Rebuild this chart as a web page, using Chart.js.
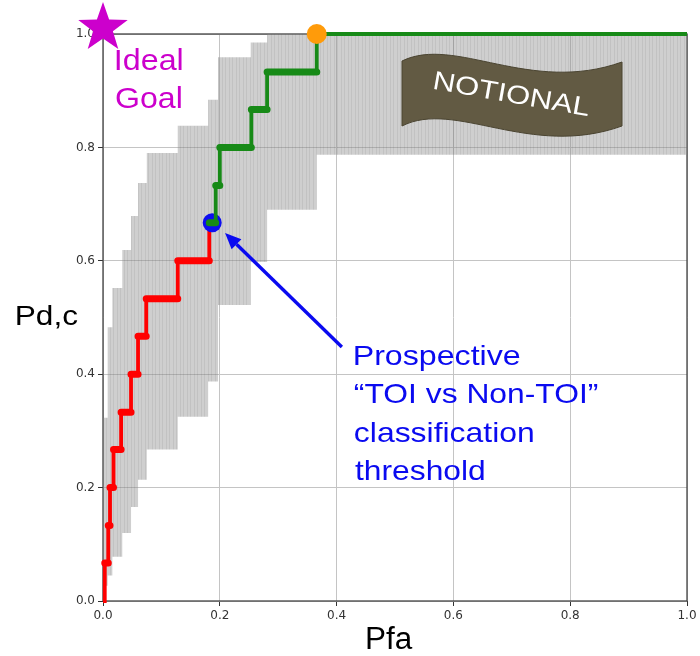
<!DOCTYPE html>
<html>
<head>
<meta charset="utf-8">
<title>ROC – Pd,c vs Pfa</title>
<script src="https://cdn.jsdelivr.net/npm/chart.js@4.4.1/dist/chart.umd.min.js"></script>
<style>
  html, body { margin: 0; padding: 0; background: #ffffff; }
  #wrap { position: relative; width: 700px; height: 656px; }
</style>
</head>
<body>
<div id="wrap"><canvas id="roc" width="700" height="656"></canvas></div>
<script>
// ---- data -------------------------------------------------------------
// Pd levels: fraction of the 15 targets correctly classified
const pdLevels = [0, 0.067, 0.133, 0.200, 0.267, 0.333, 0.400, 0.467,
                  0.533, 0.600, 0.667, 0.733, 0.800, 0.867, 0.933, 1.000];
// Pfa at which Pd steps from one level to the next
const pfaSteps = [0.003, 0.009, 0.012, 0.018, 0.031, 0.048, 0.060, 0.074,
                  0.128, 0.182, 0.193, 0.200, 0.254, 0.281, 0.366];
// operating point proposed as the classification threshold
const thresholdLevel = 10;
const thresholdPfa = 0.187;
// first point reaching Pd = 1
const fullDetection = [0.366, 1.0];
// ideal goal (no false alarms, all targets)
const idealPoint = [0, 1.0];

// confidence band: Pfa bin edges with lower / upper Pd bound per bin
const bandEdges = [0, 0.008, 0.016, 0.033, 0.048, 0.060, 0.075, 0.128,
                   0.180, 0.197, 0.253, 0.281, 0.366, 1.0];
const bandLow  = [0.027, 0.045, 0.078, 0.120, 0.166, 0.214, 0.267,
                  0.325, 0.387, 0.522, 0.598, 0.690, 0.787];
const bandHigh = [0.323, 0.483, 0.552, 0.619, 0.679, 0.737, 0.790,
                  0.838, 0.884, 0.959, 0.985, 1.000, 1.000];

const axisTicks = [0, 0.2, 0.4, 0.6, 0.8, 1.0];

// arrow from the annotation text to the threshold point (data coords)
const arrowTail = [0.409, 0.448];
const arrowTip  = [0.209, 0.649];

// ---- helpers ------------------------------------------------------------
function levelStart(k) { return k === 0 ? 0 : pfaSteps[k - 1]; }
function levelEnd(k)   { return k < pfaSteps.length ? pfaSteps[k] : 1.0; }

function stairPath(fromLevel, toLevel) {
  const pts = [];
  for (let k = fromLevel; k <= toLevel; k++) {
    pts.push({ x: levelStart(k), y: pdLevels[k] });
    pts.push({ x: levelEnd(k), y: pdLevels[k] });
  }
  return pts;
}
function levelBars(fromLevel, toLevel) {
  const pts = [];
  for (let k = fromLevel; k <= toLevel; k++) {
    pts.push({ x: levelStart(k), y: pdLevels[k] });
    pts.push({ x: levelEnd(k), y: pdLevels[k] });
    pts.push({ x: levelEnd(k), y: null });
  }
  return pts;
}
function bandLine(values) {
  const pts = [];
  values.forEach((v, i) => {
    pts.push({ x: bandEdges[i], y: v });
    pts.push({ x: bandEdges[i + 1], y: v });
  });
  return pts;
}

// red part: up to the threshold level, then the rise to it
const redPath = stairPath(0, thresholdLevel - 1);
redPath.push({ x: pfaSteps[thresholdLevel - 1], y: pdLevels[thresholdLevel] });
const greenPath = stairPath(thresholdLevel, pdLevels.length - 1);

const canvas = document.getElementById('roc');
const ctx0 = canvas.getContext('2d');

// fine vertical hatching used for the band
function bandPattern() {
  const c = document.createElement('canvas');
  c.width = 7; c.height = 4;
  const g = c.getContext('2d');
  g.fillStyle = 'rgba(140,140,140,0.42)';
  g.fillRect(0, 0, 7, 4);
  g.clearRect(1, 0, 1, 4);
  g.clearRect(5, 0, 1, 4);
  g.fillStyle = 'rgba(128,128,128,0.48)';
  g.fillRect(1, 0, 1, 4);
  g.fillRect(5, 0, 1, 4);
  return ctx0.createPattern(c, 'repeat');
}

// filled five-pointed star for the ideal point
function starImage(R) {
  const size = Math.ceil(R * 2 + 16);
  const c = document.createElement('canvas');
  c.width = size; c.height = size;
  const g = c.getContext('2d');
  const cx = size / 2, cy = size / 2 - 6;
  const r = R * 0.40;
  g.beginPath();
  for (let i = 0; i < 10; i++) {
    const rad = i % 2 === 0 ? R : r;
    const a = -Math.PI / 2 + i * Math.PI / 5;
    const px = cx + rad * Math.cos(a), py = cy + rad * Math.sin(a);
    if (i === 0) g.moveTo(px, py); else g.lineTo(px, py);
  }
  g.closePath();
  g.fillStyle = '#cc00cc';
  g.fill();
  return c;
}

function fitText(ctx, str, x, y, inkWidth) {
  const m = ctx.measureText(str);
  const w = m.actualBoundingBoxRight + m.actualBoundingBoxLeft;
  const sx = inkWidth ? inkWidth / w : 1;
  ctx.save();
  ctx.translate(x, y);
  ctx.scale(sx, 1);
  ctx.fillText(str, m.actualBoundingBoxLeft, 0);
  ctx.restore();
}

// ---- overlay plugin: frame, banner, arrow and annotation text -----------
const overlay = {
  id: 'overlay',
  beforeDatasetsDraw(chart) {
    const { ctx, chartArea: a } = chart;
    ctx.save();
    ctx.strokeStyle = '#444444';
    ctx.lineWidth = 1.3;
    ctx.strokeRect(a.left, a.top, a.right - a.left, a.bottom - a.top);
    ctx.restore();
  },
  afterDatasetsDraw(chart) {
    const { ctx, scales: { x, y } } = chart;
    ctx.save();

    // NOTIONAL banner
    ctx.beginPath();
    ctx.moveTo(402, 61);
    ctx.bezierCurveTo(455, 35, 530, 95, 622, 62);
    ctx.lineTo(622, 126);
    ctx.bezierCurveTo(530, 159, 455, 99, 402, 126);
    ctx.closePath();
    ctx.fillStyle = '#625a43';
    ctx.fill();
    ctx.strokeStyle = '#4a4431';
    ctx.lineWidth = 1;
    ctx.stroke();
    ctx.save();
    ctx.translate(434, 89);
    ctx.rotate(10 * Math.PI / 180);
    ctx.fillStyle = '#ffffff';
    ctx.font = '26px "Liberation Sans", Arial, sans-serif';
    fitText(ctx, 'NOTIONAL', 0, 0, 156);
    ctx.restore();

    // arrow to the threshold point
    const tx = x.getPixelForValue(arrowTip[0]), ty = y.getPixelForValue(arrowTip[1]);
    const sx = x.getPixelForValue(arrowTail[0]), sy = y.getPixelForValue(arrowTail[1]);
    const ang = Math.atan2(ty - sy, tx - sx);
    const headLen = 16, headHalf = 7;
    const bx = tx - headLen * Math.cos(ang), by = ty - headLen * Math.sin(ang);
    ctx.strokeStyle = '#0a0af0';
    ctx.fillStyle = '#0a0af0';
    ctx.lineWidth = 3.4;
    ctx.beginPath();
    ctx.moveTo(sx, sy);
    ctx.lineTo(bx, by);
    ctx.stroke();
    ctx.beginPath();
    ctx.moveTo(tx, ty);
    ctx.lineTo(bx + headHalf * Math.sin(ang), by - headHalf * Math.cos(ang));
    ctx.lineTo(bx - headHalf * Math.sin(ang), by + headHalf * Math.cos(ang));
    ctx.closePath();
    ctx.fill();

    // annotation text
    ctx.textBaseline = 'alphabetic';
    ctx.font = '28px "Liberation Sans", Arial, sans-serif';
    fitText(ctx, 'Prospective', 355, 365, 165);
    fitText(ctx, '\u201CTOI vs Non-TOI\u201D', 355, 403, 243);
    fitText(ctx, 'classification', 355, 442, 178);
    fitText(ctx, 'threshold', 355, 480, 129);

    ctx.fillStyle = '#cc00cc';
    ctx.font = '30px "Liberation Sans", Arial, sans-serif';
    fitText(ctx, 'Ideal', 116, 70, 66);
    fitText(ctx, 'Goal', 116, 108, 65);

    ctx.fillStyle = '#000000';
    ctx.font = '28px "Liberation Sans", Arial, sans-serif';
    fitText(ctx, 'Pd,c', 17, 325, 61);
    ctx.font = '31px "Liberation Sans", Arial, sans-serif';
    fitText(ctx, 'Pfa', 367, 649, 46);

    ctx.restore();
  }
};

const tickFont = { family: '"DejaVu Sans", sans-serif', size: 12 };

new Chart(canvas, {
  type: 'line',
  data: {
    datasets: [
      { // ideal point
        data: [{ x: idealPoint[0], y: idealPoint[1] }],
        showLine: false, pointStyle: starImage(26), pointRadius: 26,
        clip: false, order: 0
      },
      { // first point with Pd = 1
        data: [{ x: fullDetection[0], y: fullDetection[1] }],
        showLine: false, pointRadius: 10, pointBackgroundColor: '#ff9b0a',
        pointBorderWidth: 0, clip: false, order: 1
      },
      { // green thick level bars
        data: levelBars(thresholdLevel, pdLevels.length - 2),
        borderColor: '#178a17', borderWidth: 7, borderCapStyle: 'round',
        pointRadius: 0, spanGaps: false, clip: false, order: 2
      },
      { // green staircase
        data: greenPath,
        borderColor: '#178a17', borderWidth: 3.8, borderJoinStyle: 'miter',
        pointRadius: 0, clip: false, order: 3
      },
      { // threshold point
        data: [{ x: thresholdPfa, y: pdLevels[thresholdLevel] }],
        showLine: false, pointRadius: 9.5, pointBackgroundColor: '#0d0df0',
        pointBorderWidth: 0, clip: false, order: 4
      },
      { // red thick level bars
        data: levelBars(1, thresholdLevel - 1),
        borderColor: '#ff0000', borderWidth: 7, borderCapStyle: 'round',
        pointRadius: 0, spanGaps: false, clip: false, order: 5
      },
      { // red staircase
        data: redPath,
        borderColor: '#ff0000', borderWidth: 3.8, borderJoinStyle: 'miter',
        pointRadius: 0, clip: false, order: 6
      },
      { // band upper bound, filled down to the lower bound
        data: bandLine(bandHigh),
        borderWidth: 0, borderColor: 'rgba(0,0,0,0)', pointRadius: 0,
        backgroundColor: bandPattern(), fill: 8, order: 8
      },
      { // band lower bound
        data: bandLine(bandLow),
        borderWidth: 0, borderColor: 'rgba(0,0,0,0)', pointRadius: 0,
        fill: false, order: 9
      }
    ]
  },
  options: {
    responsive: false,
    animation: false,
    events: [],
    layout: { autoPadding: false, padding: { left: 58, right: 13, top: 34, bottom: 25 } },
    plugins: { legend: { display: false }, tooltip: { enabled: false } },
    scales: {
      x: {
        type: 'linear', min: 0, max: 1,
        afterBuildTicks(scale) { scale.ticks = axisTicks.map(v => ({ value: v })); },
        afterFit(scale) {
          scale.height = 30;
          scale.paddingLeft = 0; scale.paddingRight = 0;
        },
        grid: { color: '#c4c4c4', lineWidth: 1, tickColor: '#333333', tickLength: 5 },
        border: { display: false },
        ticks: { font: tickFont, color: '#333333', padding: 3,
                 maxRotation: 0, callback: v => v.toFixed(1) }
      },
      y: {
        type: 'linear', min: 0, max: 1,
        afterBuildTicks(scale) { scale.ticks = axisTicks.map(v => ({ value: v })); },
        afterFit(scale) {
          scale.width = 45;
          scale.paddingTop = 0; scale.paddingBottom = 0;
        },
        grid: { color: '#c4c4c4', lineWidth: 1, tickColor: '#333333', tickLength: 5 },
        border: { display: false },
        ticks: { font: tickFont, color: '#333333', padding: 3,
                 callback: v => v.toFixed(1) }
      }
    }
  },
  plugins: [overlay]
});
</script>
</body>
</html>
